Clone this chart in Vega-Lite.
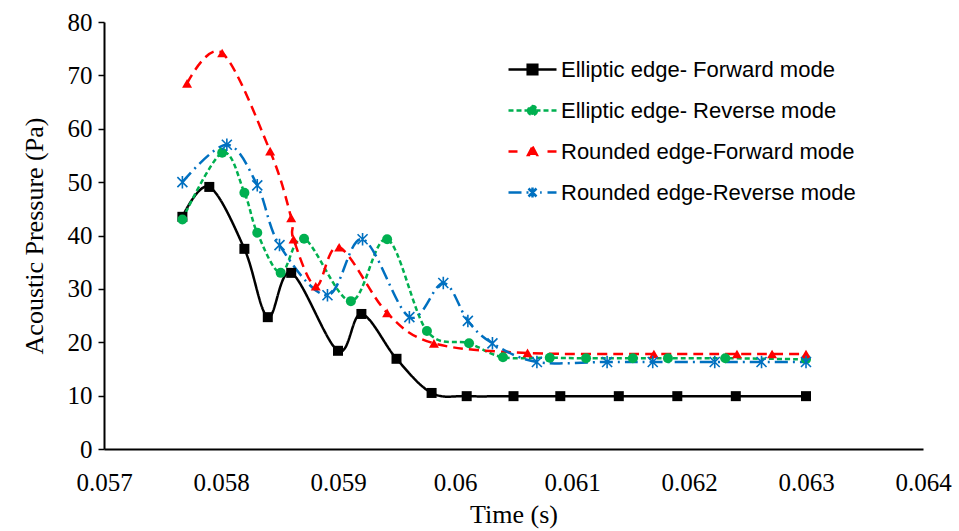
{
  "$schema": "https://vega.github.io/schema/vega-lite/v6.json",
  "width": 819,
  "height": 427,
  "autosize": {"type": "none"},
  "padding": {"left": 104, "top": 22, "right": 36, "bottom": 82},
  "background": "white",
  "config": {
    "view": {"stroke": null},
    "axis": {"grid": false, "domainColor": "black", "domainWidth": 2, "tickColor": "black", "labelColor": "black", "titleColor": "black", "labelFont": "Liberation Serif", "titleFont": "Liberation Serif", "titleFontWeight": "normal"},
    "legend": {
      "title": null, "orient": "none", "legendX": 407, "legendY": 26,
      "symbolSize": 1600, "labelOffset": 7,
      "labelFont": "Liberation Sans", "labelFontSize": 22, "labelColor": "black", "labelLimit": 400
    }
  },
  "data": {
    "values": [
      {"series": "Elliptic edge- Forward mode", "t": 0.05767, "p": 43.5},
      {"series": "Elliptic edge- Forward mode", "t": 0.0579, "p": 49.1},
      {"series": "Elliptic edge- Forward mode", "t": 0.0582, "p": 37.5},
      {"series": "Elliptic edge- Forward mode", "t": 0.0584, "p": 24.7},
      {"series": "Elliptic edge- Forward mode", "t": 0.0586, "p": 33.0},
      {"series": "Elliptic edge- Forward mode", "t": 0.059, "p": 18.4},
      {"series": "Elliptic edge- Forward mode", "t": 0.0592, "p": 25.3},
      {"series": "Elliptic edge- Forward mode", "t": 0.0595, "p": 16.9},
      {"series": "Elliptic edge- Forward mode", "t": 0.0598, "p": 10.5},
      {"series": "Elliptic edge- Forward mode", "t": 0.0601, "p": 9.9},
      {"series": "Elliptic edge- Forward mode", "t": 0.0605, "p": 9.9},
      {"series": "Elliptic edge- Forward mode", "t": 0.0609, "p": 9.9},
      {"series": "Elliptic edge- Forward mode", "t": 0.0614, "p": 9.9},
      {"series": "Elliptic edge- Forward mode", "t": 0.0619, "p": 9.9},
      {"series": "Elliptic edge- Forward mode", "t": 0.0624, "p": 9.9},
      {"series": "Elliptic edge- Forward mode", "t": 0.063, "p": 9.9},

      {"series": "Elliptic edge- Reverse mode", "t": 0.05767, "p": 43.0},
      {"series": "Elliptic edge- Reverse mode", "t": 0.05801, "p": 55.5},
      {"series": "Elliptic edge- Reverse mode", "t": 0.0582, "p": 48.0},
      {"series": "Elliptic edge- Reverse mode", "t": 0.05831, "p": 40.5},
      {"series": "Elliptic edge- Reverse mode", "t": 0.05851, "p": 33.0},
      {"series": "Elliptic edge- Reverse mode", "t": 0.05871, "p": 39.4},
      {"series": "Elliptic edge- Reverse mode", "t": 0.05911, "p": 27.7},
      {"series": "Elliptic edge- Reverse mode", "t": 0.05942, "p": 39.3},
      {"series": "Elliptic edge- Reverse mode", "t": 0.05976, "p": 22.1},
      {"series": "Elliptic edge- Reverse mode", "t": 0.06012, "p": 19.8},
      {"series": "Elliptic edge- Reverse mode", "t": 0.06041, "p": 17.2},
      {"series": "Elliptic edge- Reverse mode", "t": 0.06081, "p": 17.1},
      {"series": "Elliptic edge- Reverse mode", "t": 0.06112, "p": 17.0},
      {"series": "Elliptic edge- Reverse mode", "t": 0.06152, "p": 17.0},
      {"series": "Elliptic edge- Reverse mode", "t": 0.06182, "p": 17.0},
      {"series": "Elliptic edge- Reverse mode", "t": 0.06231, "p": 17.0},
      {"series": "Elliptic edge- Reverse mode", "t": 0.063, "p": 16.8},

      {"series": "Rounded edge-Forward mode", "t": 0.05771, "p": 68.5},
      {"series": "Rounded edge-Forward mode", "t": 0.05801, "p": 74.2},
      {"series": "Rounded edge-Forward mode", "t": 0.05842, "p": 55.8},
      {"series": "Rounded edge-Forward mode", "t": 0.0586, "p": 43.3},
      {"series": "Rounded edge-Forward mode", "t": 0.05862, "p": 39.3},
      {"series": "Rounded edge-Forward mode", "t": 0.05881, "p": 30.5},
      {"series": "Rounded edge-Forward mode", "t": 0.05901, "p": 37.8},
      {"series": "Rounded edge-Forward mode", "t": 0.05942, "p": 25.5},
      {"series": "Rounded edge-Forward mode", "t": 0.05982, "p": 19.8},
      {"series": "Rounded edge-Forward mode", "t": 0.06062, "p": 18.0},
      {"series": "Rounded edge-Forward mode", "t": 0.0617, "p": 17.8},
      {"series": "Rounded edge-Forward mode", "t": 0.06241, "p": 17.8},
      {"series": "Rounded edge-Forward mode", "t": 0.06271, "p": 17.8},
      {"series": "Rounded edge-Forward mode", "t": 0.063, "p": 17.8},

      {"series": "Rounded edge-Reverse mode", "t": 0.05767, "p": 50.0},
      {"series": "Rounded edge-Reverse mode", "t": 0.05805, "p": 57.0},
      {"series": "Rounded edge-Reverse mode", "t": 0.05831, "p": 49.4},
      {"series": "Rounded edge-Reverse mode", "t": 0.0585, "p": 38.2},
      {"series": "Rounded edge-Reverse mode", "t": 0.05891, "p": 28.8},
      {"series": "Rounded edge-Reverse mode", "t": 0.05921, "p": 39.3},
      {"series": "Rounded edge-Reverse mode", "t": 0.05961, "p": 24.7},
      {"series": "Rounded edge-Reverse mode", "t": 0.0599, "p": 31.1},
      {"series": "Rounded edge-Reverse mode", "t": 0.06011, "p": 24.0},
      {"series": "Rounded edge-Reverse mode", "t": 0.06032, "p": 19.8},
      {"series": "Rounded edge-Reverse mode", "t": 0.0607, "p": 16.3},
      {"series": "Rounded edge-Reverse mode", "t": 0.0613, "p": 16.3},
      {"series": "Rounded edge-Reverse mode", "t": 0.06169, "p": 16.3},
      {"series": "Rounded edge-Reverse mode", "t": 0.06222, "p": 16.3},
      {"series": "Rounded edge-Reverse mode", "t": 0.06262, "p": 16.3},
      {"series": "Rounded edge-Reverse mode", "t": 0.063, "p": 16.3}
    ]
  },
  "encoding": {
    "x": {
      "field": "t", "type": "quantitative",
      "scale": {"domain": [0.057, 0.064], "nice": false, "zero": false},
      "axis": {"title": "Time (s)", "values": [0.057, 0.058, 0.059, 0.06, 0.061, 0.062, 0.063, 0.064], "format": ".3~f", "ticks": false, "labelPadding": 21, "labelFontSize": 25, "titleFontSize": 26, "titlePadding": 6, "labelFlush": false}
    },
    "y": {
      "field": "p", "type": "quantitative",
      "scale": {"domain": [0, 80], "nice": false},
      "axis": {"title": "Acoustic Pressure (Pa)", "values": [0, 10, 20, 30, 40, 50, 60, 70, 80], "tickSize": 6, "tickWidth": 1.5, "labelPadding": 6, "labelFontSize": 25, "titleFontSize": 26, "titlePadding": 20}
    }
  },
  "layer": [
    {
      "mark": {"type": "line", "interpolate": "cardinal", "strokeWidth": 2.5},
      "encoding": {
        "color": {"field": "series", "type": "nominal",
          "scale": {"domain": ["Elliptic edge- Forward mode", "Elliptic edge- Reverse mode", "Rounded edge-Forward mode", "Rounded edge-Reverse mode"], "range": ["#000000", "#00B050", "#FF0000", "#0070C0"]},
          "legend": {
            "rowPadding": 8,
            "encode": {
              "symbols": {
                "update": {
                  "shape": {"signal": "datum.value === 'Elliptic edge- Forward mode' ? 'M-1.2,0L1.2,0M-0.24,-0.24L0.24,-0.24L0.24,0.24L-0.24,0.24Z' : datum.value === 'Elliptic edge- Reverse mode' ? 'M-1.2,0L-0.95,0M-0.8,0L-0.55,0M-0.4,0L-0.2,0M0.2,0L0.4,0M0.55,0L0.8,0M0.95,0L1.2,0M-0.22,0A0.22,0.22 0 1,0 0.22,0A0.22,0.22 0 1,0 -0.22,0Z' : datum.value === 'Rounded edge-Forward mode' ? 'M-1.2,0L-0.75,0M0.75,0L1.2,0M0,-0.24L0.22,0.17L-0.22,0.17Z' : 'M-1.2,0L-0.12,0M-0.2,-0.2L0.2,0.2M-0.2,0.2L0.2,-0.2M0,-0.25L0,0.25M0.38,0L0.46,0M0.75,0L1.2,0'"},
                  "fill": {"scale": "color", "field": "value"},
                  "stroke": {"scale": "color", "field": "value"},
                  "strokeDash": {"value": [1, 0]},
                  "strokeWidth": {"value": 2.5},
                  "opacity": {"value": 1},
                  "fillOpacity": {"value": 1},
                  "strokeOpacity": {"value": 1}
                }
              }
            }
          }},
        "strokeDash": {"field": "series", "type": "nominal",
          "scale": {"domain": ["Elliptic edge- Forward mode", "Elliptic edge- Reverse mode", "Rounded edge-Forward mode", "Rounded edge-Reverse mode"], "range": [[1, 0], [5, 3], [10, 6], [13, 5, 2, 5]]}}
      }
    },
    {
      "transform": [{"filter": "datum.series !== 'Rounded edge-Reverse mode'"}],
      "mark": {"type": "point", "filled": true, "opacity": 1},
      "encoding": {
        "color": {"field": "series", "type": "nominal"},
        "shape": {"field": "series", "type": "nominal", "legend": null,
          "scale": {"domain": ["Elliptic edge- Forward mode", "Elliptic edge- Reverse mode", "Rounded edge-Forward mode"], "range": ["square", "circle", "triangle-up"]}},
        "size": {"value": 100}
      }
    },
    {
      "transform": [{"filter": "datum.series === 'Rounded edge-Reverse mode'"}],
      "mark": {"type": "point", "filled": false, "opacity": 1, "color": "#0070C0", "strokeWidth": 1.6, "shape": "M-1,-1L1,1M-1,1L1,-1M0,-1.25L0,1.25", "size": 100},
      "encoding": {}
    }
  ]
}
